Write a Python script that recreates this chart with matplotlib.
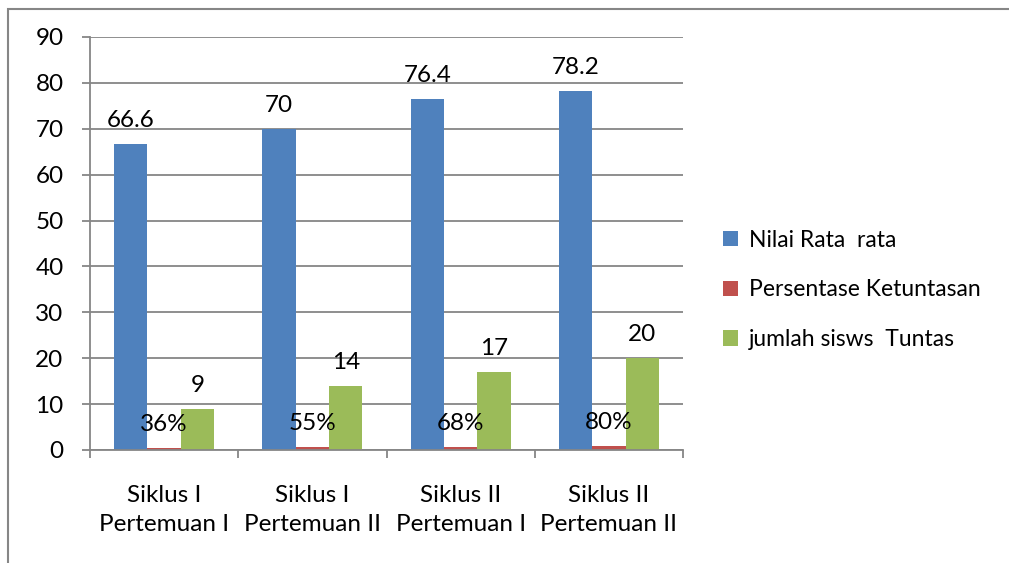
import numpy as np
import matplotlib.pyplot as plt
from matplotlib.patches import Rectangle

categories = ['Siklus I\nPertemuan I', 'Siklus I\nPertemuan II', 'Siklus II\nPertemuan I', 'Siklus II\nPertemuan II']
nilai = [66.6, 70, 76.4, 78.2]
persen = [0.36, 0.55, 0.68, 0.80]
jumlah = [9, 14, 17, 20]
series_names = ['Nilai Rata  rata', 'Persentase Ketuntasan', 'jumlah sisws  Tuntas']

plt.rcParams['font.family'] = ['Lato', 'DejaVu Sans']
grey = '#868686'

fig = plt.figure(figsize=(10.09, 5.63), dpi=100)
ax = fig.add_axes([90/1009, 113/563, 593/1009, 413/563])

x = np.arange(len(categories))
w = 0.225
b1 = ax.bar(x - w, nilai, w, color='#4F81BD')
b2 = ax.bar(x, persen, w, color='#C0504D')
b3 = ax.bar(x + w, jumlah, w, color='#9BBB59')

fs = 17.5
for bars, vals, fmt in [(b1, nilai, '{:g}'), (b2, persen, '{:.0%}'), (b3, jumlah, '{:g}')]:
    for r, v in zip(bars, vals):
        ax.annotate(fmt.format(v), (r.get_x() + r.get_width()/2, r.get_height()),
                    xytext=(0, 9.5), textcoords='offset points', ha='center', va='bottom', fontsize=fs)

ax.set_xlim(-0.5, 3.5)
ax.set_ylim(0, 90)
ax.set_yticks(range(0, 91, 10))
ax.yaxis.grid(True, color=grey, linewidth=1.3)
ax.set_axisbelow(True)
for s in ['top', 'right']:
    ax.spines[s].set_visible(False)
for s in ['left', 'bottom']:
    ax.spines[s].set_color(grey)
    ax.spines[s].set_linewidth(1.3)

ax.set_xticks(x)
ax.set_xticklabels(categories, fontsize=fs, linespacing=1.5)
ax.tick_params(axis='x', length=0, pad=25)
ax.set_xticks(np.arange(-0.5, 4, 1), minor=True)
ax.tick_params(axis='x', which='minor', length=6, color=grey, width=1.3)
ax.tick_params(axis='y', length=6, color=grey, width=1.3, labelsize=fs, pad=13)

ax.legend([b1, b2, b3], series_names, loc='center left', bbox_to_anchor=(702/1009, 1 - 290/563),
          bbox_transform=fig.transFigure, frameon=False, fontsize=16.5, handlelength=0.65,
          handleheight=0.65, handletextpad=0.5, labelspacing=1.25)

fig.patches.append(Rectangle((8/1009, -0.05), 1.1, 0.05 + (563-9)/563, transform=fig.transFigure,
                             fill=False, edgecolor=grey, linewidth=1.5))

fig.savefig('out.png', dpi=100)
